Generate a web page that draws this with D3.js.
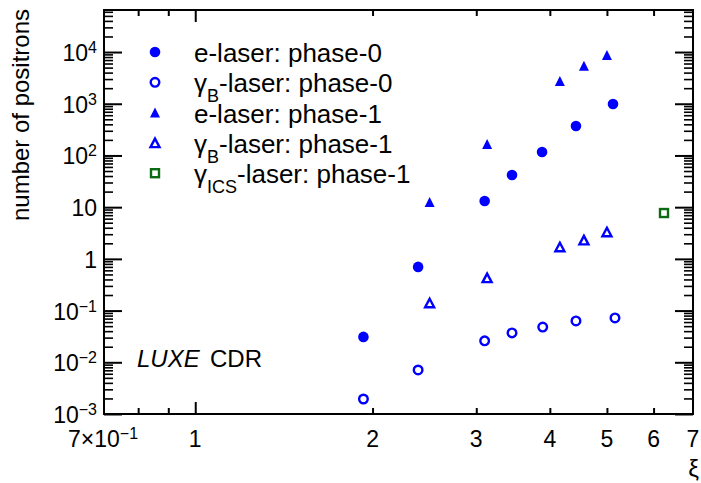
<!DOCTYPE html>
<html>
<head>
<meta charset="utf-8">
<script src="https://cdn.jsdelivr.net/npm/d3@7"></script>
<style>
  body { margin: 0; background: #fff; }
  svg text { font-family: "Liberation Sans", Arial, Helvetica, sans-serif; fill: #000; }
</style>
</head>
<body>
<div id="chart"></div>
<script>
// data (xi, number of positrons)
var eLaser0Xi = [1.93, 2.39, 3.1, 3.45, 3.88, 4.43, 5.12];
var eLaser0N = [0.031, 0.70, 13.2, 42, 117, 372, 990];
var gbLaser0Xi = [1.93, 2.39, 3.1, 3.45, 3.89, 4.43, 5.16];
var gbLaser0N = [0.00195, 0.0071, 0.026, 0.037, 0.048, 0.063, 0.072];
var eLaser1Xi = [2.5, 3.13, 4.16, 4.57, 5.0];
var eLaser1N = [12.6, 167, 2760, 5400, 8800];
var gbLaser1Xi = [2.5, 3.13, 4.16, 4.57, 5.0];
var gbLaser1N = [0.14, 0.43, 1.7, 2.3, 3.3];
var gicsLaser1Xi = [6.25];
var gicsLaser1N = [7.7];

var xLabelTicks = [0.7, 1, 2, 3, 4, 5, 6, 7];
var yDecades = [-3, -2, -1, 0, 1, 2, 3, 4];

var blue = "#0000ff", green = "#0b6b12";

var series = [
  {name: "e-laser: phase-0", xi: eLaser0Xi, n: eLaser0N, shape: "circle", fill: true, color: blue},
  {name: "-laser: phase-0", sym: "γ", sub: "B", xi: gbLaser0Xi, n: gbLaser0N, shape: "circle", fill: false, color: blue},
  {name: "e-laser: phase-1", xi: eLaser1Xi, n: eLaser1N, shape: "triangle", fill: true, color: blue},
  {name: "-laser: phase-1", sym: "γ", sub: "B", xi: gbLaser1Xi, n: gbLaser1N, shape: "triangle", fill: false, color: blue},
  {name: "-laser: phase-1", sym: "γ", sub: "ICS", xi: gicsLaser1Xi, n: gicsLaser1N, shape: "square", fill: false, color: green}
];

var W = 701, H = 483;
var padL = 104, padR = 693, padT = 10, padB = 414;

var svg = d3.select("#chart").append("svg")
  .attr("width", W)
  .attr("height", H);

var x = d3.scaleLog().domain([0.7, 7]).range([padL, padR]);
var y = d3.scaleLog().domain([1e-3, 6.5e4]).range([padB, padT]);

// minor y ticks 2..9 per decade
var yMinor = [];
yDecades.forEach(function(e) {
  for (var k = 2; k <= 9; k++) {
    var v = k * Math.pow(10, e);
    if (v <= 6.5e4) yMinor.push(v);
  }
});
var yMajor = yDecades.map(function(e) { return Math.pow(10, e); });

function tickAxis(axis, tr) {
  var g = svg.append("g").attr("transform", tr).call(axis);
  g.select(".domain").remove();
  g.selectAll(".tick line").attr("stroke", "#000").attr("stroke-width", 2);
  g.selectAll(".tick text").remove();
  return g;
}

// left / right y ticks
tickAxis(d3.axisLeft(y).tickValues(yMajor).tickSize(-18).tickSizeOuter(0), "translate(" + padL + ",0)");
tickAxis(d3.axisLeft(y).tickValues(yMinor).tickSize(-9).tickSizeOuter(0), "translate(" + padL + ",0)")
  .selectAll(".tick line").attr("stroke-width", 1.6);
tickAxis(d3.axisRight(y).tickValues(yMajor).tickSize(-18).tickSizeOuter(0), "translate(" + padR + ",0)");
tickAxis(d3.axisRight(y).tickValues(yMinor).tickSize(-9).tickSizeOuter(0), "translate(" + padR + ",0)")
  .selectAll(".tick line").attr("stroke-width", 1.6);

// bottom / top x ticks
var xShort = [0.8, 0.9, 2, 3, 4, 5, 6];
tickAxis(d3.axisBottom(x).tickValues(xShort).tickSize(-6).tickSizeOuter(0), "translate(0," + padB + ")");
tickAxis(d3.axisBottom(x).tickValues([1]).tickSize(-12).tickSizeOuter(0), "translate(0," + padB + ")");
tickAxis(d3.axisTop(x).tickValues(xShort).tickSize(-6).tickSizeOuter(0), "translate(0," + padT + ")");
tickAxis(d3.axisTop(x).tickValues([1]).tickSize(-12).tickSizeOuter(0), "translate(0," + padT + ")");

// frame
svg.append("rect")
  .attr("x", padL).attr("y", padT)
  .attr("width", padR - padL).attr("height", padB - padT)
  .attr("fill", "none").attr("stroke", "#000").attr("stroke-width", 2);

// y tick labels
yDecades.forEach(function(e) {
  var t = svg.append("text")
    .attr("x", 97).attr("y", y(Math.pow(10, e)) + 9)
    .attr("text-anchor", "end")
    .attr("font-size", "23px");
  if (e == 0) { t.text("1"); }
  else if (e == 1) { t.text("10"); }
  else {
    t.append("tspan").text("10");
    t.append("tspan").attr("dy", -8).attr("font-size", "16px")
      .text(e < 0 ? "\u2212" + (-e) : String(e));
  }
});

// x tick labels
xLabelTicks.forEach(function(v) {
  var t = svg.append("text")
    .attr("x", x(v)).attr("y", 447)
    .attr("text-anchor", "middle")
    .attr("font-size", "23px");
  if (v < 1) {
    t.attr("x", x(v) - 1);
    t.append("tspan").text("7\u00d710");
    t.append("tspan").attr("dy", -8).attr("font-size", "16px").text("\u22121");
  } else {
    t.text(v);
  }
});

// axis titles
svg.append("text")
  .attr("transform", "translate(29,115) rotate(-90)")
  .attr("text-anchor", "middle")
  .attr("font-size", "24px")
  .text("number of positrons");

svg.append("text")
  .attr("x", 699).attr("y", 477)
  .attr("text-anchor", "end")
  .attr("font-size", "24px")
  .text("\u03be");

// LUXE CDR
var lux = svg.append("text").attr("x", 137).attr("y", 367).attr("font-size", "24px");
lux.append("tspan").attr("font-style", "italic").text("LUXE");
lux.append("tspan").attr("x", 210).text("CDR");

// markers
function marker(g, s) {
  var sw = s.fill ? 0 : 2.4;
  var fill = s.fill ? s.color : "none";
  if (s.shape == "circle") {
    var r = s.fill ? 5.3 : 4.3;
    g.append("circle").attr("r", r).attr("fill", fill)
      .attr("stroke", s.color).attr("stroke-width", sw);
  } else if (s.shape == "triangle") {
    var h = s.fill ? 10 : 8.5;
    var w = s.fill ? 10 : 9;
    g.append("path")
      .attr("d", "M0," + (-h / 2) + "L" + (w / 2) + "," + (h / 2) + "L" + (-w / 2) + "," + (h / 2) + "Z")
      .attr("fill", fill).attr("stroke", s.color).attr("stroke-width", sw)
      .attr("stroke-linejoin", "miter");
  } else {
    g.append("rect").attr("x", -4).attr("y", -4).attr("width", 8).attr("height", 8)
      .attr("fill", fill).attr("stroke", s.color).attr("stroke-width", sw);
  }
}

series.forEach(function(s) {
  var pts = s.xi.map(function(v, i) { return [v, s.n[i]]; });
  svg.append("g").selectAll("g")
    .data(pts)
    .enter()
    .append("g")
    .attr("transform", function(d) { return "translate(" + x(d[0]) + "," + y(d[1]) + ")"; })
    .each(function() { marker(d3.select(this), s); });
});

// legend
series.forEach(function(s, i) {
  var ly = 52 + i * 30.3;
  var g = svg.append("g").attr("transform", "translate(155," + ly + ")");
  marker(g, s);
  var t = svg.append("text").attr("x", 194).attr("y", ly + 10).attr("font-size", "26px");
  if (s.sym) {
    t.append("tspan").text(s.sym);
    t.append("tspan").attr("dy", 10).attr("font-size", "18px").text(s.sub);
    t.append("tspan").attr("dy", -10).text(s.name);
  } else {
    t.text(s.name);
  }
});
</script>
</body>
</html>
